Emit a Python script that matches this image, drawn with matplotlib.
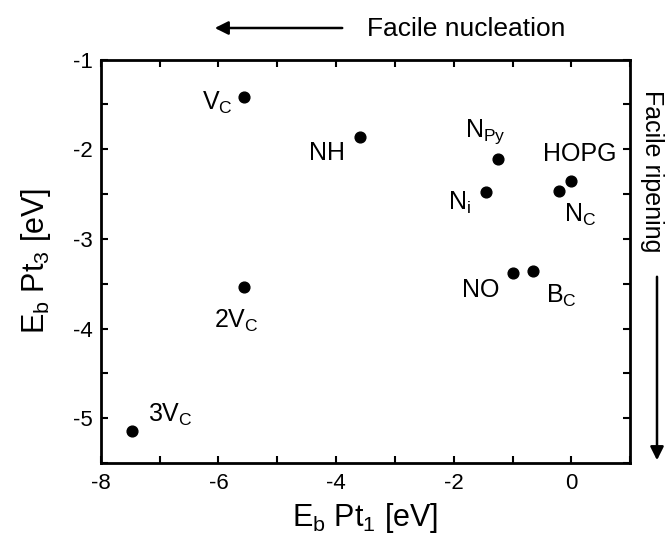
import matplotlib
matplotlib.use("Agg")
from matplotlib import pyplot as plt
from matplotlib.ticker import MultipleLocator

plt.rcParams['font.family'] = ['Liberation Sans', 'DejaVu Sans']
plt.rcParams['mathtext.fontset'] = 'custom'
plt.rcParams['mathtext.rm'] = 'Liberation Sans'
plt.rcParams['mathtext.it'] = 'Liberation Sans'
plt.rcParams['mathtext.default'] = 'regular'
plt.rcParams['axes.unicode_minus'] = False

# binding energies
names = ['V$_C$', 'NH', '2V$_C$', '3V$_C$', 'N$_{Py}$', 'HOPG', 'N$_C$', 'N$_i$', 'NO', 'B$_C$']
eb_pt1 = [-5.56, -3.60, -5.56, -7.46, -1.25, 0.0, -0.22, -1.46, -1.00, -0.65]
eb_pt3 = [-1.42, -1.86, -3.54, -5.14, -2.11, -2.35, -2.47, -2.48, -3.38, -3.36]

# label placement relative to the dot, in pixels (dx, dy down), anchor
offsets = {
    'V$_C$': (-11, 13, 'right'),
    'NH': (-15, 23, 'right'),
    '2V$_C$': (-8, 40, 'center'),
    '3V$_C$': (16, -9, 'left'),
    'N$_{Py}$': (-33, -22, 'left'),
    'HOPG': (8, -20, 'center'),
    'N$_C$': (5, 30, 'left'),
    'N$_i$': (-15, 18, 'right'),
    'NO': (-13, 24, 'right'),
    'B$_C$': (13, 32, 'left'),
}
px = 0.72  # points per pixel at 100 dpi

fig = plt.figure(figsize=(6.67, 5.41), dpi=100)
ax = fig.add_axes([0.151, 0.144, 0.794, 0.746])

ax.scatter(eb_pt1, eb_pt3, s=60, color='black', zorder=3)
for n, x, y in zip(names, eb_pt1, eb_pt3):
    dx, dy, ha = offsets[n]
    ax.annotate(n, (x, y), xytext=(dx * px, -dy * px), textcoords='offset points',
                ha=ha, va='baseline', fontsize=18)

ax.set_xlim(-8, 1)
ax.set_ylim(-5.5, -1)
ax.xaxis.set_major_locator(MultipleLocator(2))
ax.xaxis.set_minor_locator(MultipleLocator(1))
ax.yaxis.set_major_locator(MultipleLocator(1))
ax.yaxis.set_minor_locator(MultipleLocator(0.5))
ax.tick_params(which='both', direction='in', top=True, right=True, width=1.5, length=5,
               labelsize=16)
ax.tick_params(axis='x', pad=7)
ax.tick_params(axis='y', pad=6)
for s in ax.spines.values():
    s.set_linewidth(2)

ax.set_xlabel('E$_b$ Pt$_1$ [eV]', fontsize=22, labelpad=5)
ax.set_ylabel('E$_b$ Pt$_3$ [eV]', fontsize=22, labelpad=14)

# direction arrows
fig.text(367 / 667, 1 - 29 / 541, 'Facile nucleation', fontsize=19, ha='left', va='center')
ax.annotate('', xy=(212 / 667, 1 - 28 / 541), xytext=(345 / 667, 1 - 28 / 541),
            xycoords='figure fraction', textcoords='figure fraction',
            arrowprops=dict(arrowstyle='-|>', color='black', lw=1.8, mutation_scale=20))

fig.text(652 / 667, 1 - 171 / 541, 'Facile ripening', fontsize=18, rotation=-90,
         ha='center', va='center')
ax.annotate('', xy=(657 / 667, 1 - 463 / 541), xytext=(657 / 667, 1 - 274 / 541),
            xycoords='figure fraction', textcoords='figure fraction',
            arrowprops=dict(arrowstyle='-|>', color='black', lw=1.8, mutation_scale=20))

fig.savefig('out.png', dpi=100)
